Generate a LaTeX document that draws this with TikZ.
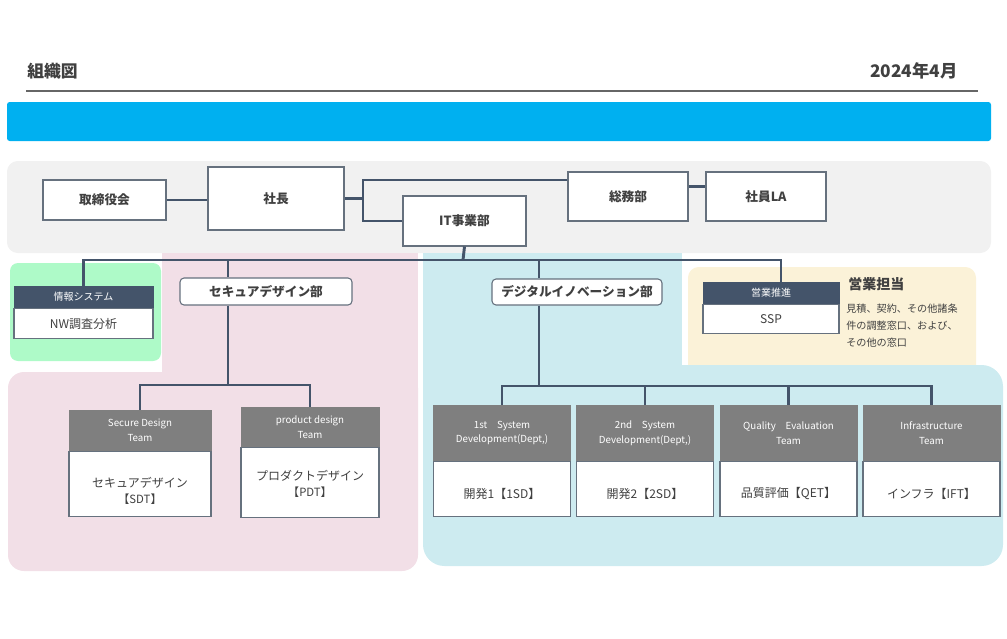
\documentclass[tikz,border=0pt]{standalone}
\usepackage{fontspec}
\setmainfont{Noto Sans CJK JP}
\usepackage{tikz}
\usetikzlibrary{positioning, calc}

\definecolor{slate}{HTML}{44546A}
\definecolor{hdgray}{HTML}{7F7F7F}
\definecolor{boxline}{HTML}{66717E}
\definecolor{txt}{HTML}{404040}
\definecolor{barblue}{HTML}{00B0F0}
\definecolor{bggray}{HTML}{F1F1F1}
\definecolor{bggreen}{HTML}{AEFAC8}
\definecolor{bgpink}{HTML}{F2DFE7}
\definecolor{bgblue}{HTML}{CDEBF0}
\definecolor{bgyellow}{HTML}{FBF2D8}

\tikzset{
	conn/.style={draw=slate, line width=2.2pt},
	topbox/.style={draw=boxline, fill=white, line width=0.8pt, inner sep=0pt, text=txt,
		font=\bfseries\fontsize{9.5}{11}\selectfont},
	deptbox/.style={topbox, rounded corners=3pt},
	darkhd/.style={fill=slate, draw=slate, text=white, inner sep=0pt,
		font=\fontsize{7.5}{9}\selectfont},
	grayhd/.style={fill=hdgray, draw=hdgray, text=white, inner sep=0pt, align=center,
		font=\fontsize{7.3}{11}\selectfont},
	bodybox/.style={draw=boxline, fill=white, line width=0.8pt, inner sep=0pt, text=txt,
		align=center, font=\fontsize{9}{12}\selectfont},
}

\begin{document}
\begin{tikzpicture}[x=0.75pt, y=-0.75pt]
	\useasboundingbox (0,0) rectangle (1007,639);
	
	%//header
	\node [anchor=west, inner sep=0pt, text=txt, font=\bfseries\fontsize{12.6}{14}\selectfont] (title) at (27,71) {組織図};
	\node [anchor=east, inner sep=0pt, text=txt, font=\bfseries\fontsize{13}{15}\selectfont] (date) at (958,71) {2024年4月};
	\draw [color=txt!80, line width=0.8pt] (26,91) -- (978,91);
	\fill [barblue, rounded corners=2pt] (7,102) rectangle (991,141);
	
	%//background areas
	\fill [bggray, rounded corners=8pt] (7,161) rectangle (991,253);
	\fill [bggreen, rounded corners=6pt] (10,263) rectangle (161,361);
	\fill [bgpink] (162,253) rectangle (418,400);
	\fill [bgpink, rounded corners=12pt] (8,372) rectangle (418,571);
	\fill [bgyellow, rounded corners=8pt] (688,267) rectangle (976,400);
	\fill [bgblue] (423,253) rectangle (682,400);
	\fill [bgblue, rounded corners=16pt] (423,365) rectangle (1003,566);
	
	%//top row
	\node [topbox, minimum width=92.25pt, minimum height=30pt] (tori) at (104.5,200) {取締役会};
	\node [topbox, minimum width=102pt, minimum height=47.25pt] (shacho) at (276,198.5) {社長};
	\node [topbox, minimum width=92.25pt, minimum height=37.5pt] (it) at (464.5,221) {IT事業部};
	\node [topbox, minimum width=90pt, minimum height=36.75pt] (somu) at (628,196.5) {総務部};
	\node [topbox, minimum width=90pt, minimum height=36.75pt] (la) at (766,196.5) {社員LA};
	
	\coordinate (jtop) at (363,180);
	\draw [conn] (tori.east) -- (tori.east -| shacho.west);
	\draw [conn] (shacho.east) -- (shacho.east -| jtop);
	\draw [conn] (jtop -| somu.west) -- (jtop) -- (jtop |- it.west) -- (it.west);
	\draw [conn] ([yshift=7.5pt]somu.east) -- ([yshift=7.5pt]la.west);
	
	%//second row
	\node [darkhd, minimum width=104.25pt, minimum height=16.5pt] (johoh) at (83.5,297) {情報システム};
	\node [bodybox, minimum width=104.25pt, minimum height=22.5pt, below=0pt of johoh] (johob) {NW調査分析};
	
	\node [deptbox, minimum width=129pt, minimum height=20.25pt] (secdept) at (266,291.5) {セキュアデザイン部};
	\node [deptbox, minimum width=127.5pt, minimum height=19.5pt] (digdept) at (577,292) {デジタルイノベーション部};
	
	\node [darkhd, minimum width=102pt, minimum height=16.5pt] (eigyoh) at (771,293) {営業推進};
	\node [bodybox, minimum width=102pt, minimum height=21.75pt, below=0pt of eigyoh] (eigyob) {SSP};
	
	\node [anchor=west, inner sep=0pt, text=txt, font=\bfseries\fontsize{10.5}{12}\selectfont] (tanto) at (848,284) {営業担当};
	\node [anchor=north west, text=txt, inner sep=0pt, align=left, font=\fontsize{7.6}{12.75}\selectfont]
		(tantotxt) at (846,304) {見積、契約、その他諸条\\件の調整窓口、および、\\その他の窓口};
	
	\coordinate (bus) at (463,260);
	\coordinate (secdrop) at (228,260);
	\coordinate (digdrop) at (539,260);
	\draw [conn] (it.south) -- (bus);
	\draw [conn] (johoh.north) -- (johoh.north |- bus) -- ([xshift=7.5pt]eigyoh.north |- bus) -- ([xshift=7.5pt]eigyoh.north);
	\draw [conn] (secdrop) -- (secdrop |- secdept.north);
	\draw [conn] (digdrop) -- (digdrop |- digdept.north);
	
	%//secure design teams
	\node [grayhd, minimum width=106.5pt, minimum height=30.75pt] (sdth) at (140,430.5) {Secure Design\\Team};
	\node [bodybox, minimum width=106.5pt, minimum height=48.75pt, below=0pt of sdth] (sdtb) {\\[5pt]セキュアデザイン\\{\fontsize{8.5}{10}\selectfont【SDT】}};
	\node [grayhd, minimum width=103.5pt, minimum height=30pt] (pdth) at (310,427) {product design\\Team};
	\node [bodybox, minimum width=103.5pt, minimum height=52.5pt, below=0pt of pdth] (pdtb) {\\[-2pt]プロダクトデザイン\\{\fontsize{8.5}{10}\selectfont【PDT】}};
	
	\coordinate (secbus) at (228,385);
	\draw [conn] (secdrop |- secdept.south) -- (secbus);
	\draw [conn] (sdth.north) -- (sdth.north |- secbus) -- (pdth.north |- secbus) -- (pdth.north);
	
	%//digital innovation teams
	\coordinate (digbus) at (539,386);
	\draw [conn] (digdrop |- digdept.south) -- (digbus);
	\foreach \nm/\x/\hd/\bd in {da/502/{1st　System\\Development(Dept,)}/{開発1【1SD】},
		db/645/{2nd　System\\Development(Dept,)}/{開発2【2SD】},
		dc/788.5/{Quality　Evaluation\\Team}/{品質評価【QET】},
		dd/931.5/{Infrastructure\\Team}/{インフラ【IFT】}}
	{
		\node [grayhd, minimum width=102.75pt, minimum height=42pt] (\nm h) at (\x,433) {\hd};
		\node [bodybox, minimum width=102.75pt, minimum height=41.25pt, below=0pt of \nm h] (\nm b) {\\[2.5pt]\bd};
	}
	\draw [conn] (dah.north) -- (dah.north |- digbus) -- (ddh.north |- digbus) -- (ddh.north);
	\foreach \nm in {db, dc}
	\draw [conn] (\nm h.north) -- (\nm h.north |- digbus);
	
\end{tikzpicture}
\end{document}
